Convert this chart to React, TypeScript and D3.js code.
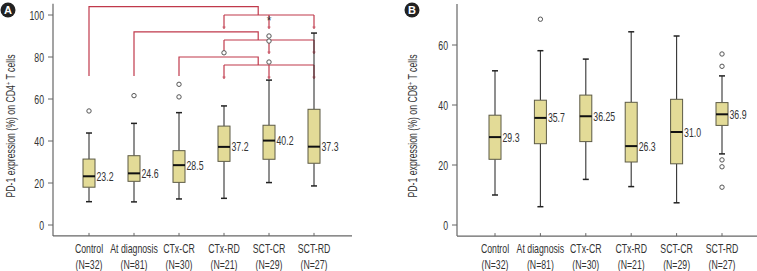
import React from "react";
import * as d3 from "d3";

const categories = ["Control", "At diagnosis", "CTx-CR", "CTx-RD", "SCT-CR", "SCT-RD"];
const nLabels = ["(N=32)", "(N=81)", "(N=30)", "(N=21)", "(N=29)", "(N=27)"];

// Panel A: CD4+
const cd4Low = [11.1, 11, 12.4, 12.7, 20.2, 18.6];
const cd4Q1 = [18, 20.8, 20.3, 30.3, 31.3, 29.4];
const cd4Median = [23.2, 24.6, 28.5, 37.2, 40.2, 37.3];
const cd4Q3 = [31.4, 33, 35.4, 47.1, 47.5, 55.1];
const cd4High = [43.8, 48.4, 53.5, 56.7, 69.0, 91.4];
const cd4Outliers = [[54.3], [61.6], [61, 67], [82], [77.6, 87.6, 90], []];
const cd4Extremes = [[], [], [], [], [97.6], []];
const cd4MedianLabels = ["23.2", "24.6", "28.5", "37.2", "40.2", "37.3"];
const cd4Ticks = [0, 20, 40, 60, 80, 100];

// Panel B: CD8+
const cd8Low = [10, 6.1, 15.2, 12.8, 7.4, 23.7];
const cd8Q1 = [21.9, 27.1, 27.8, 21, 20.4, 33.2];
const cd8Median = [29.3, 35.7, 36.25, 26.3, 31.0, 36.9];
const cd8Q3 = [36.6, 41.6, 43.3, 40.9, 41.9, 40.8];
const cd8High = [51.4, 58.1, 55.3, 64.4, 63, 49.7];
const cd8Outliers = [[], [68.6], [], [], [], [57, 52.9, 21.7, 19.4, 12.6]];
const cd8Extremes = [[], [], [], [], [], []];
const cd8MedianLabels = ["29.3", "35.7", "36.25", "26.3", "31.0", "36.9"];
const cd8Ticks = [0, 20, 40, 60];

// Significance brackets (panel A)
const bracketFrom = ["Control", "At diagnosis", "CTx-CR"];
const bracketTop = [104, 92, 80];
const bracketLower = [100, 88.1, 76.2];
const bracketLeftEnd = 71;
const bracketTargets = ["CTx-RD", "SCT-CR", "SCT-RD"];
const bracketJunction = 3.76; // category index position

const FONT = "'Liberation Sans', Arial, sans-serif";
const TEXT = "#333";
const AXIS = "#666";
const BOX_FILL = "#e3db97";
const BOX_STROKE = "#5c5a45";
const RED = "#c0394b";
const SX = 0.7;
const FS = 12.5;

function T(props: { x: number; y: number; anchor?: string; rotate?: boolean; children: React.ReactNode; size?: number; fill?: string }) {
  const { x, y, anchor = "start", rotate = false, children, size = FS, fill = TEXT } = props;
  return (
    <text
      transform={`translate(${x},${y})${rotate ? " rotate(-90)" : ""} scale(${SX},1)`}
      textAnchor={anchor}
      fontSize={size}
      fill={fill}
      fontFamily={FONT}
    >
      {children}
    </text>
  );
}

type PanelProps = {
  letter: string;
  yLabelA: string;
  yLabelB: string;
  sup: string;
  axisX: number;
  axisRight: number;
  firstX: number;
  lastX: number;
  y: d3.ScaleLinear<number, number>;
  axisTopVal: number;
  axisBotVal: number;
  ticks: number[];
  low: number[];
  q1: number[];
  med: number[];
  q3: number[];
  high: number[];
  outliers: number[][];
  extremes: number[][];
  medLabels: string[];
  labelX: number;
  circleX: number;
  children?: React.ReactNode;
};

function Panel(p: PanelProps) {
  const x = d3.scalePoint<string>().domain(categories).range([p.firstX, p.lastX]);
  const axisY = p.y(p.axisBotVal);
  const bw = 12;
  const cap = 6;
  return (
    <g>
      <circle cx={p.circleX} cy={10} r={7.5} fill="#222" />
      <text x={p.circleX} y={14} textAnchor="middle" fill="#fff" fontSize={11} fontWeight="bold" fontFamily="'Liberation Sans', Arial, sans-serif">{p.letter}</text>
      <T x={p.labelX} y={126} anchor="middle" rotate>
        {p.yLabelA}
        <tspan fontSize={8} dy={-4}>{p.sup}</tspan>
        <tspan dy={4}>{p.yLabelB}</tspan>
      </T>
      <line x1={p.axisX} x2={p.axisX} y1={p.y(p.axisTopVal)} y2={axisY} stroke={AXIS} strokeWidth={1.2} />
      <line x1={p.axisX} x2={p.axisRight} y1={axisY} y2={axisY} stroke={AXIS} strokeWidth={1.2} />
      {p.ticks.map((t) => (
        <g key={t}>
          <line x1={p.axisX - 5} x2={p.axisX} y1={p.y(t)} y2={p.y(t)} stroke={AXIS} />
          <T x={p.axisX - 9} y={p.y(t) + 4.5} anchor="end">{t}</T>
        </g>
      ))}
      {categories.map((c, i) => (
        <g key={c}>
          <line x1={x(c)} x2={x(c)} y1={axisY - 3} y2={axisY} stroke={AXIS} />
          <T x={x(c)!} y={253} anchor="middle">{c}</T>
          <T x={x(c)!} y={268.5} anchor="middle">{nLabels[i]}</T>
        </g>
      ))}
      {p.children}
      {categories.map((c, i) => {
        const cx = x(c)!;
        return (
          <g key={c}>
            <line x1={cx} x2={cx} y1={p.y(p.high[i])} y2={p.y(p.q3[i])} stroke="#333" strokeWidth={1.1} />
            <line x1={cx} x2={cx} y1={p.y(p.q1[i])} y2={p.y(p.low[i])} stroke="#333" strokeWidth={1.1} />
            <line x1={cx - cap / 2} x2={cx + cap / 2} y1={p.y(p.high[i])} y2={p.y(p.high[i])} stroke="#222" strokeWidth={1.5} />
            <line x1={cx - cap / 2} x2={cx + cap / 2} y1={p.y(p.low[i])} y2={p.y(p.low[i])} stroke="#222" strokeWidth={1.5} />
            <rect x={cx - bw / 2} y={p.y(p.q3[i])} width={bw} height={p.y(p.q1[i]) - p.y(p.q3[i])} fill={BOX_FILL} stroke={BOX_STROKE} strokeWidth={1} />
            <line x1={cx - bw / 2} x2={cx + bw / 2} y1={p.y(p.med[i])} y2={p.y(p.med[i])} stroke="#111" strokeWidth={2} />
            <T x={cx + bw / 2 + 1.5} y={p.y(p.med[i]) + 4.5}>{p.medLabels[i]}</T>
            {p.outliers[i].map((v, k) => (
              <circle key={k} cx={cx} cy={p.y(v)} r={2.2} fill="#fff" stroke="#555" strokeWidth={1} />
            ))}
            {p.extremes[i].map((v, k) => (
              <text key={k} x={cx} y={p.y(v) + 5} textAnchor="middle" fontSize={12} fill="#333" fontFamily={FONT}>*</text>
            ))}
          </g>
        );
      })}
    </g>
  );
}

export default function App() {
  const yA = d3.scaleLinear().domain([0, 100]).range([225, 15]);
  const yB = d3.scaleLinear().domain([0, 60]).range([225, 45]);
  const xA = d3.scalePoint<string>().domain(categories).range([89, 314]);
  const xIdx = d3.scaleLinear().domain([0, 5]).range([89, 314]);
  const dropLen = 6.7;

  const brackets = bracketFrom.map((from, i) => {
    const xl = xA(from)!;
    const xj = xIdx(bracketJunction);
    const top = yA(bracketTop[i]);
    const low = yA(bracketLower[i]);
    const x0 = xA(bracketTargets[0])!;
    const x1 = xA(bracketTargets[bracketTargets.length - 1])!;
    const dropEnd = yA(bracketLower[i] - dropLen);
    return (
      <g key={from} stroke={RED} strokeWidth={1.2} fill="none">
        <path d={`M${xl},${yA(bracketLeftEnd)}V${top}H${xj}V${low}`} />
        <path d={`M${x0},${low}H${x1}`} />
        {bracketTargets.map((t) => (
          <g key={t}>
            <line x1={xA(t)} x2={xA(t)} y1={low} y2={dropEnd} />
            <line x1={xA(t)! - 1.5} x2={xA(t)! + 1.5} y1={dropEnd - 2} y2={dropEnd - 2} strokeWidth={0.8} />
          </g>
        ))}
      </g>
    );
  });

  return (
    <svg width={757} height={271} style={{ position: "absolute", left: 0, top: 0, background: "#fff" }}>
      <Panel
        letter="A"
        yLabelA="PD-1 expression (%) on CD4"
        yLabelB=" T cells"
        sup="+"
        axisX={53}
        axisRight={352}
        firstX={89}
        lastX={314}
        y={yA}
        axisTopVal={105.3}
        axisBotVal={-5.2}
        ticks={cd4Ticks}
        low={cd4Low}
        q1={cd4Q1}
        med={cd4Median}
        q3={cd4Q3}
        high={cd4High}
        outliers={cd4Outliers}
        extremes={cd4Extremes}
        medLabels={cd4MedianLabels}
        labelX={15}
        circleX={8}
      >
        {brackets}
      </Panel>
      <Panel
        letter="B"
        yLabelA="PD-1 expression (%) on CD8"
        yLabelB=" T cells"
        sup="+"
        axisX={457}
        axisRight={757}
        firstX={495}
        lastX={722}
        y={yB}
        axisTopVal={73.7}
        axisBotVal={-3.7}
        ticks={cd8Ticks}
        low={cd8Low}
        q1={cd8Q1}
        med={cd8Median}
        q3={cd8Q3}
        high={cd8High}
        outliers={cd8Outliers}
        extremes={cd8Extremes}
        medLabels={cd8MedianLabels}
        labelX={417}
        circleX={412}
      />
    </svg>
  );
}
